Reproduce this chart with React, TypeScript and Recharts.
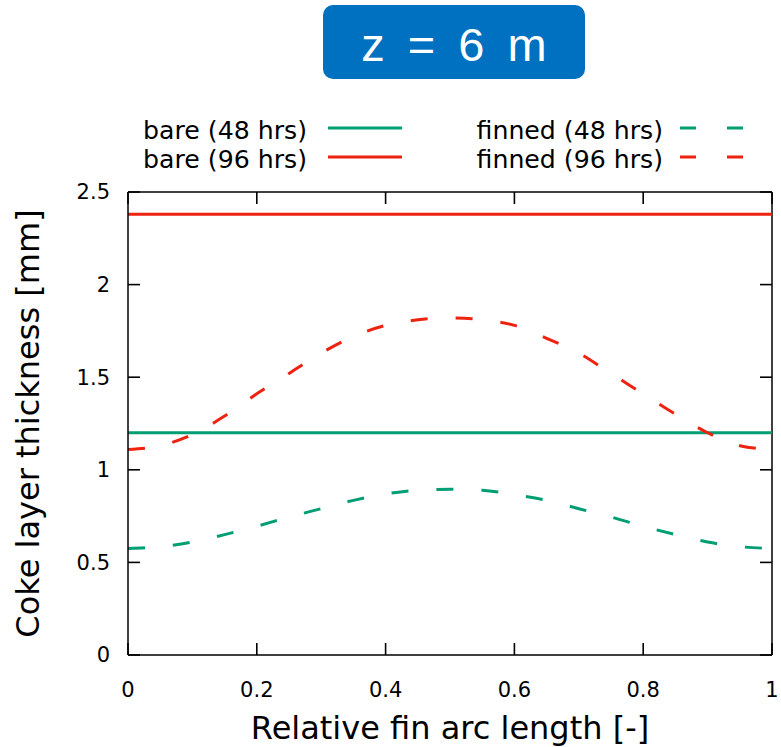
import React from "react";
import { LineChart, Line, XAxis, YAxis, ReferenceLine } from "recharts";

// relative position along the fin arc
const arcPos = [0, 0.05, 0.1, 0.15, 0.2, 0.25, 0.3, 0.35, 0.4, 0.45, 0.5, 0.55, 0.6, 0.65, 0.7, 0.75, 0.8, 0.85, 0.9, 0.95, 1];

// coke layer thickness [mm]
const bare48 = 1.2;
const bare96 = 2.38;
const finned48 = [0.575, 0.585, 0.61, 0.65, 0.695, 0.745, 0.79, 0.835, 0.87, 0.89, 0.895, 0.89, 0.865, 0.835, 0.79, 0.745, 0.695, 0.65, 0.61, 0.585, 0.575];
const finned96 = [1.11, 1.13, 1.19, 1.29, 1.41, 1.52, 1.63, 1.72, 1.78, 1.81, 1.82, 1.81, 1.78, 1.71, 1.63, 1.52, 1.41, 1.3, 1.2, 1.13, 1.11];

const xTicks = [0, 0.2, 0.4, 0.6, 0.8, 1];
const yTicks = [0, 0.5, 1, 1.5, 2, 2.5];
const X_MAX = 1;
const Y_MAX = 2.5;

const GREEN = "#009e73";
const RED = "#ee2211";
const PLOT_DASH = "17 28";
const LEGEND_DASH = "16 31";

const series = [
  { key: "bare48", label: "bare (48 hrs)", color: GREEN, dashed: false },
  { key: "bare96", label: "bare (96 hrs)", color: RED, dashed: false },
  { key: "finned48", label: "finned (48 hrs)", color: GREEN, dashed: true },
  { key: "finned96", label: "finned (96 hrs)", color: RED, dashed: true },
];

const rows = arcPos.map((x, i) => ({
  x,
  bare48,
  bare96,
  finned48: finned48[i],
  finned96: finned96[i],
}));

// chart box
const W = 781;
const H = 747;
const TOP = 192;
const RIGHT = 9;
const Y_AXIS_W = 128;
const X_AXIS_H = 92;
const PLOT_L = Y_AXIS_W;
const PLOT_R = W - RIGHT;
const PLOT_T = TOP;
const PLOT_B = H - X_AXIS_H;

const FONT = "'DejaVu Sans', sans-serif";
const tickStyle = { fontSize: 21, fill: "#000", fontFamily: FONT };
const axisLine = { stroke: "#000", strokeWidth: 1.5 };
const frame = { stroke: "#000", strokeWidth: 1.5 };
const TICK_LEN = 12;

function KeyBox() {
  // two columns: solid (bare) on the left, dashed (finned) on the right
  const cols = [
    { textEnd: 307, x1: 328, x2: 402 },
    { textEnd: 663, x1: 680, x2: 745 },
  ];
  const rowY = [128, 157];
  return (
    <svg width={W} height={190} style={{ position: "absolute", left: 0, top: 0 }}>
      {series.map((s, i) => {
        const c = cols[s.dashed ? 1 : 0];
        const y = rowY[i % 2];
        return (
          <g key={s.key}>
            <text x={c.textEnd} y={y + 11} textAnchor="end" fontSize={25.2} fontFamily={FONT} fill="#000">
              {s.label}
            </text>
            <line
              x1={c.x1}
              x2={c.x2}
              y1={y}
              y2={y}
              stroke={s.color}
              strokeWidth={3}
              strokeDasharray={s.dashed ? LEGEND_DASH : undefined}
            />
          </g>
        );
      })}
    </svg>
  );
}

// inward tick marks on all four sides of the plot box
function TickMarks() {
  const px = (t: number) => PLOT_L + (t / X_MAX) * (PLOT_R - PLOT_L);
  const py = (v: number) => PLOT_B - (v / Y_MAX) * (PLOT_B - PLOT_T);
  return (
    <svg width={W} height={H} style={{ position: "absolute", left: 0, top: 0, pointerEvents: "none" }}>
      <g stroke="#000" strokeWidth={1.6}>
        {xTicks.map((t) => (
          <g key={`x${t}`}>
            <line x1={px(t)} x2={px(t)} y1={PLOT_B} y2={PLOT_B - TICK_LEN} />
            <line x1={px(t)} x2={px(t)} y1={PLOT_T} y2={PLOT_T + TICK_LEN} />
          </g>
        ))}
        {yTicks.map((t) => (
          <g key={`y${t}`}>
            <line x1={PLOT_L} x2={PLOT_L + TICK_LEN} y1={py(t)} y2={py(t)} />
            <line x1={PLOT_R} x2={PLOT_R - TICK_LEN} y1={py(t)} y2={py(t)} />
          </g>
        ))}
      </g>
    </svg>
  );
}

export default function App() {
  return (
    <div style={{ position: "relative", width: W, height: H, background: "#fff" }}>
      <style>{`body { margin: 0; }`}</style>
      <div
        style={{
          position: "absolute",
          left: 323,
          top: 5,
          width: 262,
          height: 74,
          borderRadius: 10,
          background: "#0070c0",
          color: "#fff",
          fontFamily: "'Liberation Sans', Arial, sans-serif",
          fontSize: 47,
          wordSpacing: 10,
          lineHeight: "80px",
          textAlign: "center",
        }}
      >
        z = 6 m
      </div>
      <KeyBox />
      <div style={{ position: "absolute", left: 0, top: 0 }}>
        <LineChart width={W} height={H} data={rows} margin={{ top: TOP, right: RIGHT, bottom: 0, left: 0 }}>
          <XAxis
            dataKey="x"
            type="number"
            domain={[0, X_MAX]}
            ticks={xTicks}
            height={X_AXIS_H}
            tick={tickStyle}
            tickSize={0}
            tickMargin={27}
            tickLine={false}
            axisLine={axisLine}
            label={{
              value: "Relative fin arc length [-]",
              position: "insideBottom",
              offset: 8,
              style: { fontSize: 32, fill: "#000", fontFamily: FONT },
            }}
          />
          <YAxis
            type="number"
            domain={[0, Y_MAX]}
            ticks={yTicks}
            width={Y_AXIS_W}
            tick={tickStyle}
            tickSize={0}
            tickMargin={18}
            tickLine={false}
            axisLine={axisLine}
            label={{
              value: "Coke layer thickness [mm]",
              angle: -90,
              position: "insideLeft",
              offset: 28,
              style: { fontSize: 32, fill: "#000", fontFamily: FONT, textAnchor: "middle" },
            }}
          />

          {/* top and right border of the box */}
          <ReferenceLine y={Y_MAX} {...frame} />
          <ReferenceLine x={X_MAX} {...frame} />

          {series.map((s) => (
            <Line
              key={s.key}
              dataKey={s.key}
              type={s.dashed ? "monotone" : "linear"}
              stroke={s.color}
              strokeWidth={3}
              strokeDasharray={s.dashed ? PLOT_DASH : undefined}
              dot={false}
              activeDot={false}
              isAnimationActive={false}
            />
          ))}
        </LineChart>
      </div>
      <TickMarks />
    </div>
  );
}
